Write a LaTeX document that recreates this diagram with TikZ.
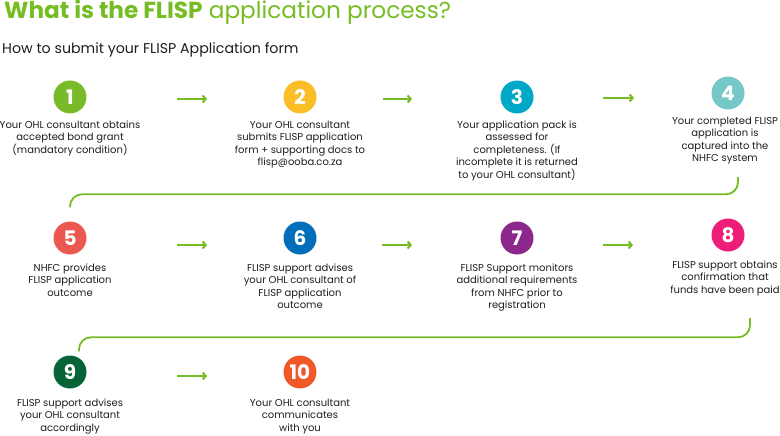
\documentclass[tikz,border=0pt]{standalone}
\usepackage{fontspec}
\setmainfont{Poppins}
\usetikzlibrary{arrows.meta,positioning,calc}
\definecolor{flispgreen}{RGB}{118,188,35}
\definecolor{textgray}{RGB}{30,30,30}
\definecolor{stepone}{RGB}{120,186,40}
\definecolor{steptwo}{RGB}{252,190,40}
\definecolor{stepthree}{RGB}{0,168,200}
\definecolor{stepfour}{RGB}{118,200,200}
\definecolor{stepfive}{RGB}{234,88,80}
\definecolor{stepsix}{RGB}{0,110,185}
\definecolor{stepseven}{RGB}{140,40,140}
\definecolor{stepeight}{RGB}{236,30,120}
\definecolor{stepnine}{RGB}{8,100,55}
\definecolor{stepten}{RGB}{240,88,40}

\begin{document}
\begin{tikzpicture}[x=1pt,y=-1pt,node distance=6pt]
  \tikzstyle{badge}=[circle,minimum size=33pt,inner sep=0pt,text=white,font=\fontsize{20}{20}\selectfont\bfseries]
  \tikzstyle{desc}=[align=center,text=textgray,font=\fontsize{10}{12.4}\selectfont,inner sep=1pt]
  \tikzstyle{flow}=[draw=flispgreen,line width=2pt,-{Straight Barb[length=3pt,width=7pt]}]
  \tikzstyle{link}=[draw=flispgreen,line width=1.8pt,rounded corners=12pt]
  \useasboundingbox (0,0) rectangle (780,436);
  % heading
  \node[anchor=base west,inner sep=0pt,text=flispgreen,font=\fontsize{23.2}{23.2}\selectfont] (title) at (4,19) {\textbf{What is the FLISP} application process?};
  \node[anchor=base west,inner sep=0pt,text=textgray,font=\fontsize{14.2}{14.2}\selectfont] (sub) at (2,54) {How to submit your FLISP Application form};
  % row 1
  \node[badge,fill=stepone] (c1) at (70,97) {1};
  \node[badge,fill=steptwo] (c2) at (300,97) {2};
  \node[badge,fill=stepthree] (c3) at (517,97) {3};
  \node[badge,fill=stepfour] (c4) at (728,93) {4};
  \node[desc,below=of c1] (t1) {Your OHL consultant obtains\\accepted bond grant\\(mandatory condition)};
  \node[desc,below=of c2] (t2) {Your OHL consultant\\submits FLISP application\\form + supporting docs to\\flisp@ooba.co.za};
  \node[desc,below=of c3] (t3) {Your application pack is\\assessed for\\completeness. (If\\incomplete it is returned\\to your OHL consultant)};
  \node[desc,below=of c4,xshift=-3pt] (t4) {Your completed FLISP\\application is\\captured into the\\NHFC system};
  % row 2
  \node[badge,fill=stepfive] (c5) at (70,238) {5};
  \node[badge,fill=stepsix] (c6) at (300,238) {6};
  \node[badge,fill=stepseven] (c7) at (517,238) {7};
  \node[badge,fill=stepeight] (c8) at (728,235) {8};
  \node[desc,below=8pt of c5] (t5) {NHFC provides\\FLISP application\\outcome};
  \node[desc,below=8pt of c6] (t6) {FLISP support advises\\your OHL consultant of\\FLISP application\\outcome};
  \node[desc,below=8pt of c7] (t7) {FLISP Support monitors\\additional requirements\\from NHFC prior to\\registration};
  \node[desc,below=8pt of c8,xshift=-3pt] (t8) {FLISP support obtains\\confirmation that\\funds have been paid};
  % row 3
  \node[badge,fill=stepnine] (c9) at (70,372) {9};
  \node[badge,fill=stepten] (c10) at (300,372) {10};
  \node[desc,below=9pt of c9] (t9) {FLISP support advises\\your OHL consultant\\accordingly};
  \node[desc,below=9pt of c10] (t10) {Your OHL consultant\\communicates\\with you};
  % arrows
  \draw[flow] ([xshift=107pt,yshift=-2pt]c1.center) -- ([xshift=-93pt,yshift=-2pt]c2.center);
  \draw[flow] ([xshift=83pt,yshift=-2pt]c2.center) -- ([xshift=-105pt,yshift=-2pt]c3.center);
  \draw[flow] ([xshift=86pt,yshift=-1pt]c3.center) -- ([xshift=-94pt,yshift=-5pt]c4.center);
  \draw[flow] ([xshift=107pt,yshift=-7pt]c5.center) -- ([xshift=-93pt,yshift=-7pt]c6.center);
  \draw[flow] ([xshift=82pt,yshift=-7pt]c6.center) -- ([xshift=-105pt,yshift=-7pt]c7.center);
  \draw[flow] ([xshift=86pt,yshift=-7pt]c7.center) -- ([xshift=-95pt,yshift=-10pt]c8.center);
  \draw[flow] ([xshift=107pt,yshift=-4pt]c9.center) -- ([xshift=-93pt,yshift=-4pt]c10.center);
  % wrap-around links
  \draw[link] ([xshift=10pt,yshift=-84pt]c4.center) |- ([yshift=27pt]c5.north) -- ([yshift=14pt]c5.north);
  \draw[link] ([xshift=22pt,yshift=-83pt]c8.center) |- ([xshift=9pt,yshift=18pt]c9.north) -- ([xshift=9pt,yshift=4pt]c9.north);
\end{tikzpicture}
\end{document}
